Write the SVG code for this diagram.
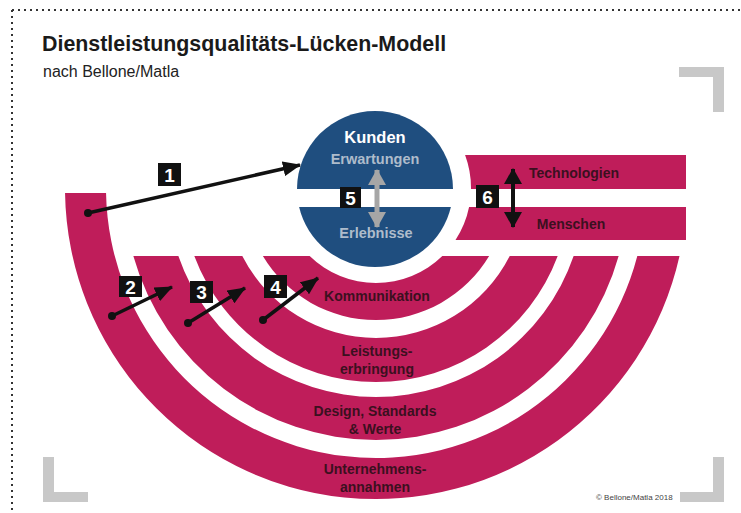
<svg xmlns="http://www.w3.org/2000/svg" width="741" height="513" viewBox="0 0 741 513">
<defs>
<style>
.pink{fill:#bf1d5a}
.blue{fill:#1f4e7f}
.lbl{font-family:"Liberation Sans",Arial,sans-serif;font-weight:bold;font-size:14px;fill:#3b1020;text-anchor:middle}
.clbl{font-family:"Liberation Sans",Arial,sans-serif;font-weight:bold;font-size:14.5px;fill:#aebccb;text-anchor:middle}
.box{fill:#111}
.num{font-family:"Liberation Sans",Arial,sans-serif;font-weight:bold;font-size:19px;fill:#fff;text-anchor:middle}
.arr{stroke:#111;stroke-width:3.5;fill:none}
.corner{fill:#c8c8c8}
</style>
<marker id="ah" viewBox="0 0 18 15" refX="17" refY="7.5" markerWidth="18" markerHeight="15" markerUnits="userSpaceOnUse" orient="auto">
<path d="M0,0 L18,7.5 L0,15 Z" fill="#111"/>
</marker>
<marker id="ahb" viewBox="0 0 16 18" refX="15" refY="9" markerWidth="16" markerHeight="18" markerUnits="userSpaceOnUse" orient="auto-start-reverse">
<path d="M0,0 L16,9 L0,18 Z" fill="#111"/>
</marker>
<marker id="ahg" viewBox="0 0 16 18" refX="15" refY="9" markerWidth="16" markerHeight="18" markerUnits="userSpaceOnUse" orient="auto-start-reverse">
<path d="M0,0 L16,9 L0,18 Z" fill="#a6a6a6"/>
</marker>
</defs>
<rect width="741" height="513" fill="#fff"/>
<g id="frame">
<line x1="12" y1="10" x2="741" y2="10" stroke="#333" stroke-width="2" stroke-dasharray="2 4"/>
<line x1="12" y1="10" x2="12" y2="513" stroke="#333" stroke-width="2" stroke-dasharray="2 4"/>
<path class="corner" d="M679 67 H724 V112 H713 V77 H679 Z"/>
<path class="corner" d="M43 457 H54 V492 H88 V502 H43 Z"/>
<path class="corner" d="M713 457 H724 V502 H680 V492 H713 Z"/>
</g>
<g id="title">
<text x="42" y="51" font-family="Liberation Sans,Arial,sans-serif" font-weight="bold" font-size="21.4" fill="#1a1a1a">Dienstleistungsqualitäts-Lücken-Modell</text>
<text x="43" y="77" font-family="Liberation Sans,Arial,sans-serif" font-size="16" fill="#222">nach Bellone/Matla</text>
</g>
<g id="ring-unternehmen">
<path class="pink" d="M65.04 193 A311 311 0 0 0 679.5 256 L637.3 256 A270 270 0 0 1 106.05 193 Z"/>
<text class="lbl" x="375" y="474">Unternehmens-</text>
<text class="lbl" x="375" y="492">annahmen</text>
</g>
<g id="ring-design">
<path class="pink" d="M133.35 256 A252 252 0 0 0 618.65 256 L573.63 256 A209 209 0 0 1 178.37 256 Z"/>
<text class="lbl" x="375" y="416">Design, Standards</text>
<text class="lbl" x="375" y="434">&amp; Werte</text>
</g>
<g id="ring-leistung">
<path class="pink" d="M194.31 256 A194 194 0 0 0 557.69 256 L509.7 256 A150 150 0 0 1 242.3 256 Z"/>
<text class="lbl" x="377" y="356">Leistungs-</text>
<text class="lbl" x="377" y="374">erbringung</text>
</g>
<g id="ring-kommunikation">
<path class="pink" d="M262.86 256 A132 132 0 0 0 489.14 256 L442.34 256 A95 95 0 0 1 309.66 256 Z"/>
<text class="lbl" x="377" y="301">Kommunikation</text>
</g>
<g id="bar-technologien">
<path class="pink" d="M465.09 155 L686 155 L686 189 L471 189 A95 95 0 0 0 465.09 155 Z"/>
<text class="lbl" x="574" y="178">Technologien</text>
</g>
<g id="bar-menschen">
<path class="pink" d="M469.08 207 L686 207 L686 240 L455.5 240 A95 95 0 0 0 469.08 207 Z"/>
<text class="lbl" x="571" y="229">Menschen</text>
</g>
<g id="kunden">
<path class="blue" d="M297 189 A78 78 0 0 1 453 189 Z"/>
<path class="blue" d="M299.1 207 A78 78 0 0 0 450.9 207 Z"/>
<text x="375" y="143" font-family="Liberation Sans,Arial,sans-serif" font-weight="bold" font-size="16.5" fill="#fff" text-anchor="middle">Kunden</text>
<text class="clbl" x="375" y="164">Erwartungen</text>
<text class="clbl" x="376" y="238">Erlebnisse</text>
</g>
<g id="connectors">
<line class="arr" x1="88" y1="213" x2="300" y2="165" marker-end="url(#ah)"/>
<circle cx="88" cy="213" r="4" fill="#111"/>
<line class="arr" x1="112" y1="316" x2="172" y2="287" marker-end="url(#ah)"/>
<circle cx="112" cy="316" r="4" fill="#111"/>
<line class="arr" x1="188" y1="323" x2="245" y2="288" marker-end="url(#ah)"/>
<circle cx="188" cy="323" r="4" fill="#111"/>
<line class="arr" x1="263" y1="320" x2="318" y2="278" marker-end="url(#ah)"/>
<circle cx="263" cy="320" r="4" fill="#111"/>
<line x1="377" y1="170" x2="377" y2="227" stroke="#a6a6a6" stroke-width="5" marker-start="url(#ahg)" marker-end="url(#ahg)"/>
<line x1="513" y1="169" x2="513" y2="227" stroke="#111" stroke-width="4" marker-start="url(#ahb)" marker-end="url(#ahb)"/>
</g>
<g id="gap-1"><rect class="box" x="158" y="163" width="23" height="23"/><text class="num" x="169.5" y="181.5">1</text></g>
<g id="gap-2"><rect class="box" x="119" y="276" width="23" height="21"/><text class="num" x="130.5" y="293.5">2</text></g>
<g id="gap-3"><rect class="box" x="190" y="281" width="23" height="22"/><text class="num" x="201.5" y="299">3</text></g>
<g id="gap-4"><rect class="box" x="264" y="275" width="23" height="23"/><text class="num" x="275.5" y="293.5">4</text></g>
<g id="gap-5"><rect class="box" x="340" y="187" width="21" height="21"/><text class="num" x="350.5" y="204.5">5</text></g>
<g id="gap-6"><rect class="box" x="476" y="185" width="23" height="23"/><text class="num" x="487.5" y="203.5">6</text></g>
<text x="596" y="500" font-family="Liberation Sans,Arial,sans-serif" font-size="8" fill="#444">© Bellone/Matla 2018</text>
</svg>
